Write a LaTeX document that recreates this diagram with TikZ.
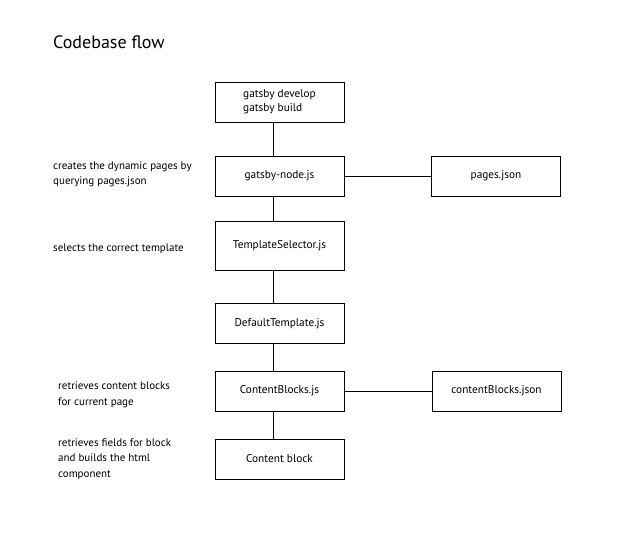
\documentclass[tikz,border=0pt]{standalone}
\usepackage{fontspec}
\setmainfont{PT Sans}
\begin{document}
\begin{tikzpicture}[x=1pt,y=-1pt,
  box/.style={draw,line width=0.9pt,minimum width=129pt,minimum height=40pt,inner sep=0pt,font=\fontsize{11.3}{14}\selectfont},
  note/.style={anchor=west,align=left,inner sep=0pt,font=\fontsize{11}{15.5}\selectfont},
  conn/.style={line width=0.9pt}]
\useasboundingbox (0,0) rectangle (635,540);
\node[anchor=base west,inner sep=0pt,font=\fontsize{18}{20}\selectfont] (title) at (53,49) {Codebase flow};
\node[box,align=left] (b1) at (279.5,102) {gatsby develop\\gatsby build};
\node[box] (b2) at (279.5,176) {gatsby-node.js};
\node[box] (pj) at (496,176) {pages.json};
\node[box,minimum height=49pt] (b3) at (279.5,245.5) {TemplateSelector.js};
\node[box] (b4) at (279.5,323.5) {DefaultTemplate.js};
\node[box] (b5) at (279.5,391) {ContentBlocks.js};
\node[box] (cj) at (496.5,391) {contentBlocks.json};
\node[box] (b6) at (279.5,459) {Content block};
\coordinate (lx) at (273,0);
\draw[conn] (lx |- b1.south) -- (lx |- b2.north);
\draw[conn] (lx |- b2.south) -- (lx |- b3.north);
\draw[conn] (lx |- b3.south) -- (lx |- b4.north);
\draw[conn] (lx |- b4.south) -- (lx |- b5.north);
\draw[conn] (lx |- b5.south) -- (lx |- b6.north);
\draw[conn] (b2.east) -- (pj.west);
\draw[conn] (b5.east) -- (cj.west);
\node[note] (n1) at (53,174.5) {creates the dynamic pages by\\querying pages.json};
\node[note] (n2) at (53,249) {selects the correct template};
\node[note] (n3) at (58,395) {retrieves content blocks\\for current page};
\node[note] (n4) at (58,459) {retrieves fields for block\\and builds the html\\component};
\end{tikzpicture}
\end{document}
